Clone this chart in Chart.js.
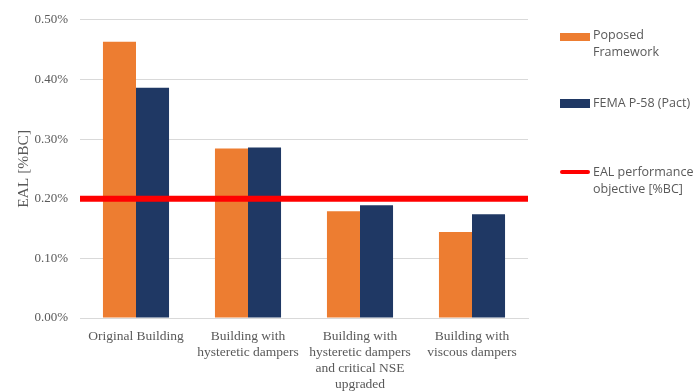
<!DOCTYPE html>
<html><head><meta charset="utf-8">
<script src="https://cdn.jsdelivr.net/npm/chart.js@4"></script>
<style>
html,body{margin:0;padding:0;background:#fff;}
#wrap{position:relative;width:694px;height:391px;}
#legend{position:absolute;left:0;top:0;font-family:"Open Sans","Liberation Sans",sans-serif;font-size:12.5px;color:#595959;line-height:16.5px;}
.sw{position:absolute;left:560px;width:30px;}
.txt{position:absolute;left:593px;white-space:nowrap;}
</style></head><body>
<div id="wrap"><canvas id="c" width="694" height="391"></canvas>
<div id="legend"></div></div>
<script>
const categories = [["Original Building"],["Building with","hysteretic dampers"],["Building with","hysteretic dampers","and critical NSE","upgraded"],["Building with","viscous dampers"]];
const proposedFramework = [0.463, 0.284, 0.179, 0.144];
const femaP58 = [0.386, 0.286, 0.189, 0.174];
const objective = 0.20;
const seriesNames = ["Poposed Framework", "FEMA P-58 (Pact)", "EAL performance objective [%BC]"];
const yTicks = [0, 0.1, 0.2, 0.3, 0.4, 0.5];

const orange = '#ED7D31', navy = '#1F3864', red = '#FF0000';
const serif = '"Liberation Serif","DejaVu Serif",serif';

const objectiveLine = {
  id: 'objectiveLine',
  afterDatasetsDraw(chart) {
    const {ctx, chartArea, scales} = chart;
    const y = scales.y.getPixelForValue(objective);
    ctx.save();
    ctx.strokeStyle = red; ctx.lineWidth = 6;
    ctx.beginPath(); ctx.moveTo(chartArea.left, y); ctx.lineTo(chartArea.right, y); ctx.stroke();
    ctx.restore();
  }
};

new Chart(document.getElementById('c'), {
  type: 'bar',
  data: {
    labels: categories,
    datasets: [
      {label: seriesNames[0], data: proposedFramework, backgroundColor: orange, categoryPercentage: 0.59, barPercentage: 1},
      {label: seriesNames[1], data: femaP58, backgroundColor: navy, categoryPercentage: 0.59, barPercentage: 1}
    ]
  },
  options: {
    responsive: false, animation: false,
    layout: {padding: {left: 15, right: 166, top: 13, bottom: 0}},
    plugins: {legend: {display: false}, tooltip: {enabled: false}},
    scales: {
      x: {
        afterFit(axis) { axis.height = 73; },
        grid: {display: false, drawTicks: false},
        border: {display: true, color: '#d9d9d9'},
        ticks: {color: '#595959', font: {family: serif, size: 13.5}, maxRotation: 0, autoSkip: false, padding: 10}
      },
      y: {
        min: 0, max: 0.5,
        afterFit(axis) { axis.width = 65; },
        afterBuildTicks(axis) { axis.ticks = yTicks.map(v => ({value: v})); },
        grid: {color: '#d9d9d9', drawTicks: false},
        border: {display: false},
        ticks: {color: '#595959', padding: 12, font: {family: serif, size: 13}, callback: v => v.toFixed(2) + '%'},
        title: {display: true, text: 'EAL [%BC]', color: '#595959', font: {family: serif, size: 15.5}, padding: {top: 0, bottom: 0}}
      }
    }
  },
  plugins: [objectiveLine]
});

const legendItems = [
  {swY: 37, textY: 27, color: orange, h: 8, lines: ["Poposed", "Framework"]},
  {swY: 103, textY: 95, color: navy, h: 9, lines: ["FEMA P-58 (Pact)"]},
  {swY: 172, textY: 164, color: red, h: 4, lines: ["EAL performance", "objective [%BC]"]}
];
const leg = document.getElementById('legend');
legendItems.forEach((it, i) => {
  const sw = document.createElement('div'); sw.className = 'sw';
  sw.style.height = it.h + 'px'; sw.style.background = it.color; sw.style.top = (it.swY - it.h / 2) + 'px';
  if (i === 2) sw.style.borderRadius = '2px';
  const t = document.createElement('div'); t.className = 'txt'; t.style.top = it.textY + 'px'; t.innerHTML = it.lines.join('<br>');
  leg.appendChild(sw); leg.appendChild(t);
});
</script>
</body></html>
